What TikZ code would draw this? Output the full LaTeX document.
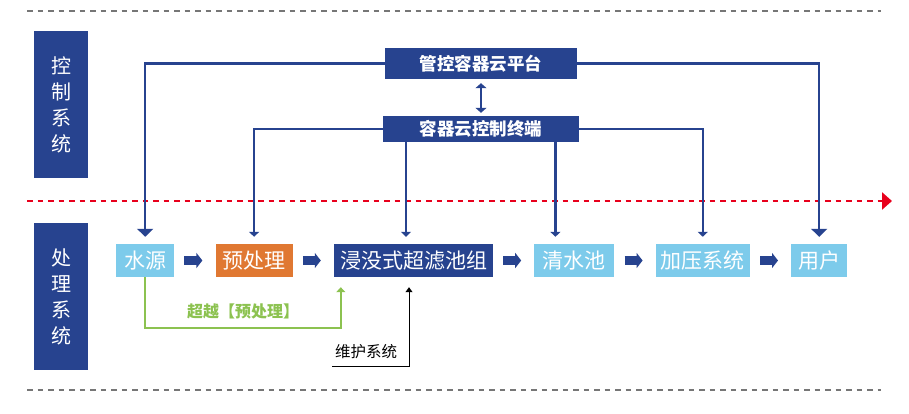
\documentclass[tikz,border=0pt]{standalone}
\usepackage{fontspec}
\setmainfont{Noto Sans CJK SC}
\usetikzlibrary{arrows.meta,positioning}
\definecolor{navy}{RGB}{39,67,143}
\definecolor{skyb}{RGB}{125,203,235}
\definecolor{orng}{RGB}{224,120,50}
\definecolor{lgreen}{RGB}{140,194,80}
\definecolor{dgray}{RGB}{118,118,118}
\definecolor{dred}{RGB}{232,0,28}

\begin{document}
\begin{tikzpicture}[x=1pt, y=-1pt, node distance=41pt,
  every node/.style={inner sep=0pt, text=white},
  sysbox/.style={fill=navy, minimum width=54pt, minimum height=147pt, align=center, font=\fontsize{20}{26}\selectfont},
  cloudbox/.style={fill=navy, font=\fontsize{17.5}{20}\selectfont\bfseries},
  stage/.style={minimum height=33pt, font=\fontsize{21}{24}\selectfont},
  sepline/.style={dgray, line width=2.5pt, dash pattern=on 5.5pt off 5pt},
  redline/.style={dred, line width=2.5pt, dash pattern=on 5.5pt off 5pt, -{Triangle[length=10pt, width=17pt]}},
  ctrl/.style={navy, line width=2.2pt, shorten >=7pt},
  bigtip/.style={-{Triangle[length=8pt, width=16pt]}},
  smalltip/.style={-{Triangle[length=5pt, width=10pt]}},
  flowarrow/.style={navy, line width=9pt, -{Triangle[length=6pt, width=15pt]}, shorten <=10pt, shorten >=13pt},
  bypass/.style={lgreen, line width=2.2pt, -{Triangle[length=5pt, width=9pt]}, shorten >=10pt},
  maintline/.style={black, line width=1pt, -{Triangle[length=5pt, width=7pt]}, shorten >=10pt}]
\useasboundingbox (0,0) rectangle (909,413);

% separators
\draw[sepline] (27,11) -- (881,11);
\draw[sepline] (27,390) -- (881,390);
\draw[redline] (27,201) -- (892,201);

% system labels
\node[sysbox] (ctrlsys) at (61,104.5) {控\\制\\系\\统};
\node[sysbox] (procsys) at (61,296.5) {处\\理\\系\\统};

% control layer
\node[cloudbox, minimum width=192pt, minimum height=31pt] (platform) at (481,63.5) {管控容器云平台};
\node[cloudbox, minimum width=196pt, minimum height=26pt] (terminal) at (481,129) {容器云控制终端};

% process chain
\node[stage, fill=skyb, minimum width=58pt, anchor=west] (source) at (116,260.5) {水源};
\node[stage, fill=orng, minimum width=77pt, right=of source] (pretreat) {预处理};
\node[stage, fill=navy, minimum width=159pt, right=of pretreat] (uf) {浸没式超滤池组};
\node[stage, fill=skyb, minimum width=80pt, right=of uf] (tank) {清水池};
\node[stage, fill=skyb, minimum width=94pt, right=of tank] (booster) {加压系统};
\node[stage, fill=skyb, minimum width=56pt, right=of booster] (user) {用户};

\foreach \a/\b in {source/pretreat, pretreat/uf, uf/tank, tank/booster, booster/user}
  \draw[flowarrow] (\a) -- (\b);

% control links
\draw[navy, line width=2.5pt, {Triangle[length=5pt, width=11pt]}-{Triangle[length=5pt, width=11pt]}, shorten <=4pt, shorten >=3pt] (platform) -- (terminal);
\draw[ctrl, bigtip] (platform.west) -| (source.north);
\draw[ctrl, bigtip] (platform.east) -| (user.north);
\draw[ctrl, smalltip] (terminal.west) -| (pretreat.north);
\draw[ctrl, smalltip] (terminal.east) -| (booster.north);
\draw[ctrl, smalltip] ([xshift=-7.5pt]uf.north |- terminal.south) -- ([xshift=-7.5pt]uf.north);
\draw[ctrl, smalltip] ([xshift=-19pt]tank.north |- terminal.south) -- ([xshift=-19pt]tank.north);

% bypass and maintenance
\draw[bypass] (source.south) -- ++(0,51) -| node[pos=.25, above=8pt, text=lgreen, font=\fontsize{16}{18}\selectfont\bfseries] (skip) {超越【预处理】} ([xshift=7pt]uf.south west);
\node[anchor=south west, inner xsep=3pt, inner ysep=7pt, text=black, font=\fontsize{15.5}{18}\selectfont] (maint) at (332,366) {维护系统};
\draw[maintline] (maint.south west) -| ([xshift=-4.5pt]uf.south);
\end{tikzpicture}
\end{document}
